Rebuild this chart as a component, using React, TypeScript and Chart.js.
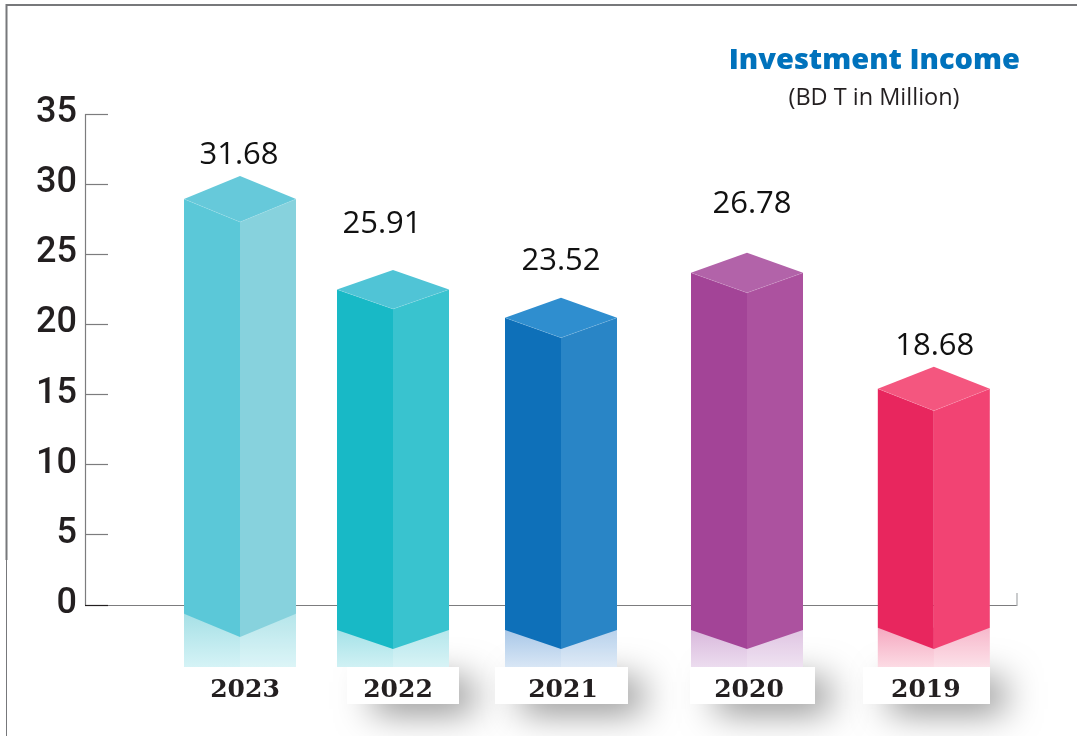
import React, { useEffect, useRef } from "react";
import { Chart, registerables } from "chart.js";

Chart.register(...registerables);

// Data
const years = ["2023", "2022", "2021", "2020", "2019"];
const incomeValues = [31.68, 25.91, 23.52, 26.78, 18.68];
const drawnTops = [27.3, 21.1, 19.05, 22.25, 13.85];
const drawnBases = [-2.28, -3.14, -3.14, -3.14, -3.14];
const yTicks = [0, 5, 10, 15, 20, 25, 30, 35];

// Styles
const leftFace = ["#5bc8d8", "#18b9c6", "#0e70b9", "#a34497", "#e8265e"];
const rightFace = ["#87d2dd", "#39c3cf", "#2985c6", "#ac529f", "#f24373"];
const topFace = ["#66c9da", "#50c4d6", "#2f8ecf", "#b263a9", "#f4567f"];
const glowStart = ["#a6e0e6", "#a5e2e8", "#a9c8e8", "#d9b9dc", "#f5a8c0"];
const glowEnd = ["#d5f3f6", "#d0f1f4", "#d8e6f5", "#ecdcef", "#fcdbe4"];

// Layout tweaks in pixels
const barNudge = [40.8, 11.4, -3, 0.6, 5];
const topBevel = [23, 19.5, 20, 20, 22];
const baseBevel = [23.3, 19, 19, 19, 21.4];
const valueDx = [-1, -11, 0, 5, 1];
const valueRise = [12, 37, 28, 40, 12];
const yearDx = [5, 5, 2, 2, -8];
const plateLeft = [185, 347, 495, 690, 863];
const plateRight = [300, 459, 628, 815, 990];

const INK = "#231f20";
const AXIS = "#7c7c7e";

function poly(ctx: CanvasRenderingContext2D, pts: number[][], fill: any) {
  ctx.beginPath();
  pts.forEach((p, i) => (i ? ctx.lineTo(p[0], p[1]) : ctx.moveTo(p[0], p[1])));
  ctx.closePath();
  ctx.fillStyle = fill;
  ctx.fill();
}

const frameAndAxes = {
  id: "frameAndAxes",
  beforeDraw(chart: any) {
    const ctx: CanvasRenderingContext2D = chart.ctx;
    const y = chart.scales.y;
    const y0 = y.getPixelForValue(0);
    const yMax = y.getPixelForValue(35);
    ctx.save();
    ctx.fillStyle = "#ffffff";
    ctx.fillRect(0, 0, chart.width, chart.height);
    ctx.strokeStyle = "#77787b";
    ctx.lineWidth = 2;
    ctx.beginPath();
    ctx.moveTo(6.5, 560);
    ctx.lineTo(6.5, 5);
    ctx.lineTo(1077, 5);
    ctx.stroke();
    ctx.lineWidth = 1;
    ctx.beginPath();
    ctx.moveTo(6.5, 560);
    ctx.lineTo(6.5, 736);
    ctx.stroke();
    ctx.strokeStyle = AXIS;
    ctx.lineWidth = 1.2;
    ctx.beginPath();
    ctx.moveTo(85.5, yMax);
    ctx.lineTo(85.5, y0);
    ctx.stroke();
    ctx.beginPath();
    ctx.moveTo(85, y0 + 0.5);
    ctx.lineTo(1017, y0 + 0.5);
    ctx.stroke();
    ctx.strokeStyle = "#a7a9ac";
    ctx.beginPath();
    ctx.moveTo(1017, y0 + 1);
    ctx.lineTo(1017, y0 - 12);
    ctx.stroke();
    ctx.restore();
  },
};

const prismBars = {
  id: "prismBars",
  afterDatasetsDraw(chart: any) {
    const ctx: CanvasRenderingContext2D = chart.ctx;
    const bars = chart.getDatasetMeta(0).data;
    const plateTop = 667;
    const plateBottom = 704;
    ctx.save();

    // plates under the year labels
    years.forEach((_, i) => {
      if (i === 0) return;
      ctx.save();
      ctx.shadowColor = "rgba(0,0,0,0.5)";
      ctx.shadowBlur = 36;
      ctx.shadowOffsetX = 14;
      ctx.shadowOffsetY = 7;
      ctx.fillStyle = "#ffffff";
      ctx.fillRect(plateLeft[i] + 12, plateTop + 6, plateRight[i] - plateLeft[i] - 12, plateBottom - plateTop - 6);
      ctx.restore();
    });
    years.forEach((_, i) => {
      ctx.fillStyle = "#ffffff";
      ctx.fillRect(plateLeft[i], plateTop, plateRight[i] - plateLeft[i], plateBottom - plateTop);
    });

    bars.forEach((bar: any, i: number) => {
      const cx = bar.x + barNudge[i];
      const half = bar.width / 2;
      const l = cx - half;
      const r = cx + half;
      const ft = bar.y;
      const fb = bar.base;
      const dt = topBevel[i];
      const db = baseBevel[i];

      const g = ctx.createLinearGradient(0, fb - db, 0, plateTop);
      g.addColorStop(0, glowStart[i]);
      g.addColorStop(1, glowEnd[i]);
      ctx.fillStyle = g;
      ctx.fillRect(l, fb - db, r - l, plateTop - (fb - db));
      ctx.fillStyle = "rgba(255,255,255,0.18)";
      ctx.fillRect(cx, fb - db, half, plateTop - (fb - db));

      poly(ctx, [[l, ft - dt], [cx, ft], [cx, fb], [l, fb - db]], leftFace[i]);
      poly(ctx, [[cx, ft], [r, ft - dt], [r, fb - db], [cx, fb]], rightFace[i]);
      poly(ctx, [[l, ft - dt], [cx, ft - 2 * dt], [r, ft - dt], [cx, ft]], topFace[i]);

      ctx.strokeStyle = "rgba(255,255,255,0.18)";
      ctx.lineWidth = 0.6;
      ctx.beginPath();
      ctx.moveTo(l, ft - dt);
      ctx.lineTo(cx, ft);
      ctx.lineTo(r, ft - dt);
      ctx.stroke();

      // value label
      ctx.font = "31px 'Open Sans'";
      ctx.fillStyle = "#111111";
      ctx.textAlign = "center";
      ctx.textBaseline = "alphabetic";
      ctx.fillText(incomeValues[i].toFixed(2), cx + valueDx[i], ft - 2 * dt - valueRise[i]);

      // year label
      ctx.font = "bold 25px 'DejaVu Serif'";
      ctx.fillStyle = INK;
      ctx.fillText(years[i], cx + yearDx[i], 697);
    });

    // unit line under the title
    ctx.font = "23.5px 'Open Sans'";
    ctx.fillStyle = INK;
    ctx.textAlign = "center";
    ctx.fillText("(BD T in Million)", 874, 105);
    ctx.restore();
  },
};

export default function App() {
  const ref = useRef<HTMLCanvasElement>(null);
  useEffect(() => {
    if (!ref.current) return;
    const chart = new Chart(ref.current, {
      type: "bar",
      data: {
        labels: years,
        datasets: [
          {
            label: "Investment Income",
            data: years.map((_, i) => [drawnBases[i], drawnTops[i]]),
            backgroundColor: "rgba(0,0,0,0)",
            borderWidth: 0,
            barThickness: 112,
          } as any,
        ],
      },
      options: {
        responsive: false,
        animation: false,
        layout: { padding: { left: 0, right: 57, top: 0, bottom: 0 } },
        plugins: {
          legend: { display: false },
          tooltip: { enabled: false },
          title: {
            display: true,
            text: "Investment Income",
            align: "end",
            color: "#0072bc",
            font: { family: "'Open Sans'", size: 29, weight: "800", lineHeight: 1.2 },
            padding: { top: 43, bottom: 36.2 },
          },
        },
        scales: {
          x: {
            type: "category",
            grid: { display: false },
            border: { display: false },
            ticks: { display: false },
            afterFit: (s: any) => {
              s.height = 131;
            },
          },
          y: {
            type: "linear",
            min: 0,
            max: 35,
            afterBuildTicks: (s: any) => {
              s.ticks = yTicks.map((value) => ({ value }));
            },
            afterFit: (s: any) => {
              s.width = 108;
            },
            grid: {
              drawOnChartArea: false,
              drawTicks: true,
              tickLength: 23,
              tickColor: (c: any) => (c.tick && c.tick.value === 0 ? "#231f20" : AXIS),
              tickWidth: 1.2,
            },
            border: { display: false },
            ticks: {
              autoSkip: false,
              color: INK,
              padding: 8,
              labelOffset: -1,
              font: { family: "Roboto", size: 36, weight: "500" },
            },
          },
        },
      } as any,
      plugins: [frameAndAxes, prismBars],
    });
    return () => chart.destroy();
  }, []);
  return (
    <canvas
      ref={ref}
      width={1077}
      height={736}
      style={{ position: "fixed", left: 0, top: 0, display: "block" }}
    />
  );
}
